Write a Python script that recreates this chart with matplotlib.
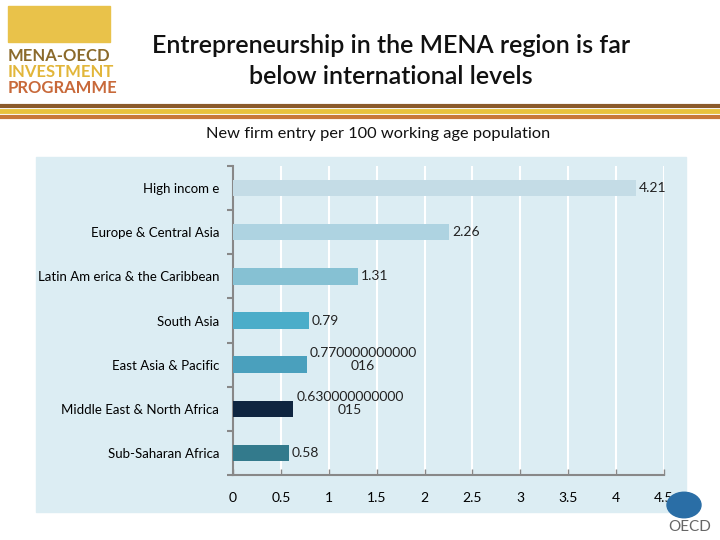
import matplotlib.pyplot as plt
from matplotlib.patches import Rectangle, Circle
from matplotlib.lines import Line2D

categories = ["High incom e", "Europe & Central Asia", "Latin Am erica & the Caribbean",
              "South Asia", "East Asia & Pacific", "Middle East & North Africa",
              "Sub-Saharan Africa"]
values = [4.21, 2.26, 1.31, 0.79, 0.77, 0.63, 0.58]
value_labels = ["4.21", "2.26", "1.31", "0.79", "0.770000000000\n016",
                "0.630000000000\n015", "0.58"]
bar_colors = ["#c4dce6", "#aed3e1", "#86c1d3", "#4badc9", "#4aa0bd", "#0f2540", "#337a8c"]
xticks = [0, 0.5, 1, 1.5, 2, 2.5, 3, 3.5, 4, 4.5]
xtick_labels = ["0", "0.5", "1", "1.5", "2", "2.5", "3", "3.5", "4", "4.5"]

plt.rcParams['font.family'] = ['Lato', 'DejaVu Sans']

fig = plt.figure(figsize=(7.2, 5.4), dpi=100)

# panel background
fig.add_artist(Rectangle((36 / 720, 1 - 512 / 540), 650 / 720, 355 / 540,
                         transform=fig.transFigure, color="#dcedf3", zorder=0))

# header stripes
for y, c, lw in [(105.5, "#8b5a2b", 3), (111, "#e8c23e", 3.5), (116.5, "#c8783a", 3)]:
    fig.add_artist(Line2D([0, 1], [1 - y / 540] * 2, transform=fig.transFigure,
                          color=c, lw=lw))

# logo (simplified)
fig.add_artist(Rectangle((8 / 720, 1 - 42 / 540), 102 / 720, 36 / 540,
                         transform=fig.transFigure, color="#e9c24a", zorder=1))
fig.text(8 / 720, 1 - 56 / 540, "MENA-OECD", color="#8b6a2b", fontsize=12,
         fontweight="bold", va="center", ha="left")
fig.text(8 / 720, 1 - 72 / 540, "INVESTMENT", color="#e2b63a", fontsize=12,
         fontweight="bold", va="center", ha="left")
fig.text(8 / 720, 1 - 88 / 540, "PROGRAMME", color="#c8693a", fontsize=12,
         fontweight="bold", va="center", ha="left")

fig.text(391 / 720, 1 - 61 / 540,
         "Entrepreneurship in the MENA region is far\nbelow international levels",
         ha="center", va="center", fontsize=18, fontweight="semibold",
         linespacing=1.4, color="#111111")
fig.text(378 / 720, 1 - 134 / 540, "New firm entry per 100 working age population",
         ha="center", va="center", fontsize=11.8, color="#111111")

ax = fig.add_axes([233 / 720, 1 - 475 / 540, 431 / 720, 309 / 540])
ax.set_facecolor("none")
ypos = list(range(len(categories)))
ax.barh(ypos, values, height=0.37, color=bar_colors, zorder=3)
ax.set_ylim(len(categories) - 0.5, -0.5)
ax.set_xlim(0, 4.5)

for y, v, lab in zip(ypos, values, value_labels):
    if "\n" in lab:
        ax.text(v + 0.03, y - 0.12, lab, ha="left", va="center", fontsize=10,
                color="#222222", multialignment="center", linespacing=1.1, zorder=4)
    else:
        ax.text(v + 0.03, y, lab, ha="left", va="center", fontsize=10,
                color="#222222", zorder=4)

ax.set_yticks(ypos)
ax.set_yticklabels(categories, fontsize=9.5)
ax.set_yticks([y - 0.5 for y in range(len(categories) + 1)], minor=True)
ax.tick_params(axis="y", which="major", length=0, pad=10)
ax.tick_params(axis="y", which="minor", length=4, color="#888888", width=1.5)

ax.set_xticks(xticks)
ax.set_xticklabels(xtick_labels, fontsize=10)
ax.tick_params(axis="x", direction="in", length=4, color="#888888", width=1, pad=12)
ax.grid(axis="x", color="white", lw=1.5, zorder=1)

for s in ["top", "right"]:
    ax.spines[s].set_visible(False)
for s in ["left", "bottom"]:
    ax.spines[s].set_color("#888888")
    ax.spines[s].set_linewidth(1.5)

# OECD logo (simplified)
fig.add_artist(Circle((684 / 720, 1 - 505 / 540), 17 / 720, transform=fig.transFigure,
                      color="#2a6ea6", zorder=5))
fig.text(690 / 720, 1 - 527 / 540, "OECD", ha="center", va="center", fontsize=11,
         color="#666666", zorder=6)

fig.savefig("out.png", dpi=100)
